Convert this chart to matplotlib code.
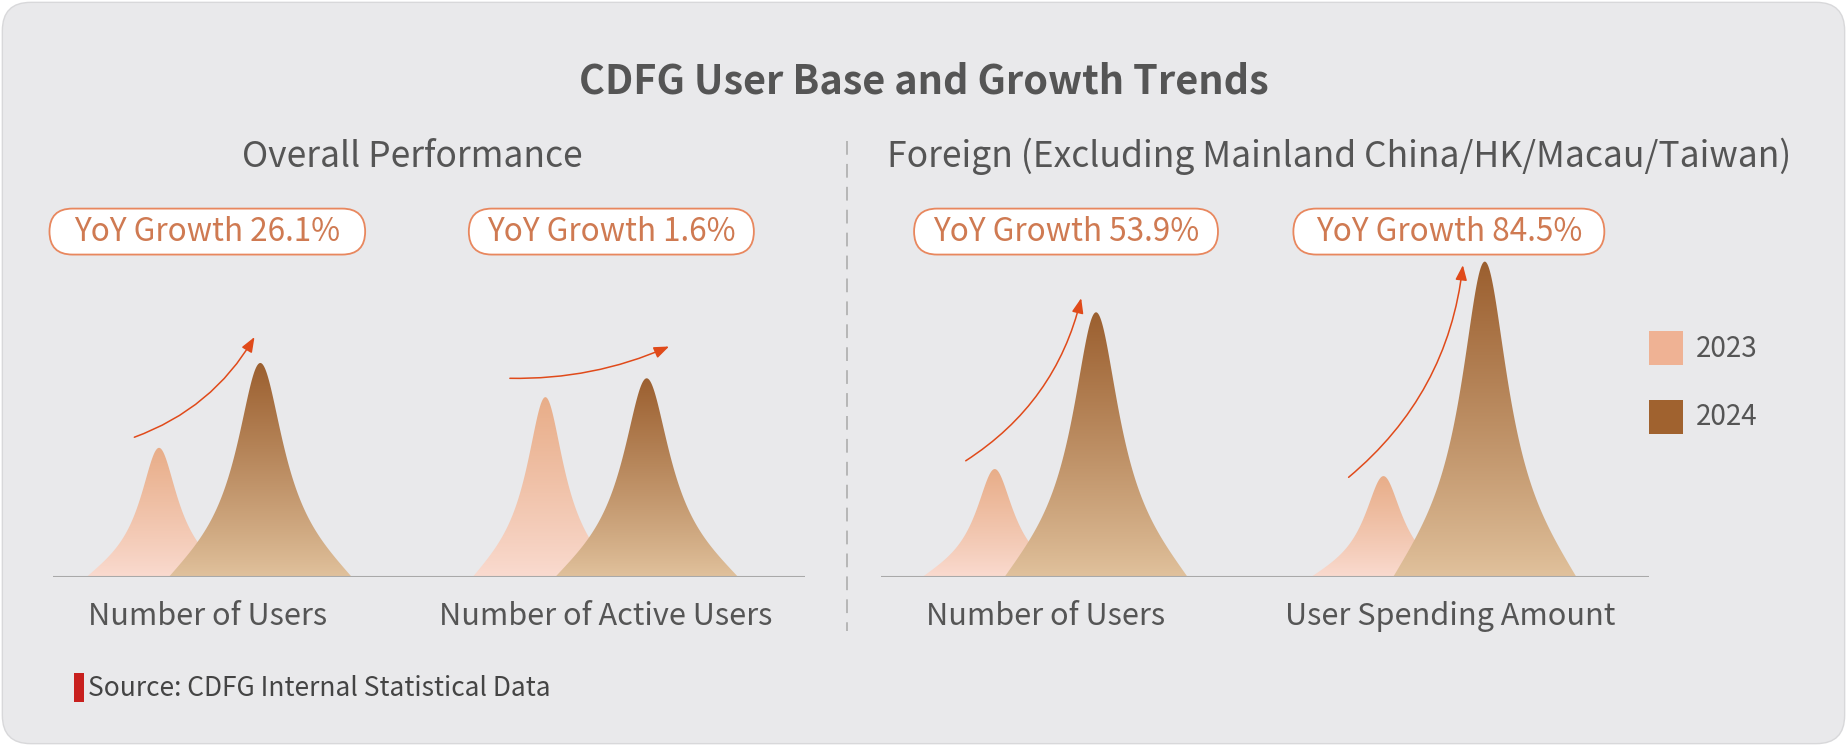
import numpy as np
import matplotlib
matplotlib.use("Agg")
import matplotlib.pyplot as plt
from matplotlib.patches import FancyBboxPatch, Rectangle, FancyArrowPatch, Polygon
from matplotlib.colors import to_rgb

plt.rcParams['font.family'] = ['Noto Sans CJK SC', 'DejaVu Sans']

# ---------------- data ----------------
title = "CDFG User Base and Growth Trends"
panel_titles = ["Overall Performance", "Foreign (Excluding Mainland China/HK/Macau/Taiwan)"]
categories_left = ["Number of Users", "Number of Active Users"]
categories_right = ["Number of Users", "User Spending Amount"]
years = ["2023", "2024"]
# relative peak heights (visual index)
left_2023 = [110, 153]
left_2024 = [182, 169]
right_2023 = [92, 86]
right_2024 = [225, 268]
growth_left = [26.1, 1.6]
growth_right = [53.9, 84.5]
source_text = "Source: CDFG Internal Statistical Data"

# ---------------- style / layout ----------------
W_REF, H_REF = 1568, 633
BG = '#e9e9eb'
TXT = '#555555'
C23_TOP, C23_BOT = '#e8ad88', '#fadbd0'
C24_TOP, C24_BOT = '#9b5f2f', '#e1c29d'
LEG23, LEG24 = '#efb294', '#a0622f'
ARROW = '#e04a1a'
PILL_EC = '#e8875e'
PILL_TXT = '#cf7a52'

fig = plt.figure(figsize=(18.47, 7.46), dpi=100)
fig.patch.set_facecolor('white')

bg = fig.add_axes([0, 0, 1, 1])
bg.set_xlim(0, W_REF)
bg.set_ylim(H_REF, 0)
bg.axis('off')
bg.add_patch(FancyBboxPatch((2, 2), W_REF - 4, H_REF - 4,
                            boxstyle="round,pad=0,rounding_size=24",
                            fc=BG, ec='#d8d8da', lw=1))

bg.text(W_REF / 2, 70, title, ha='center', va='center', fontsize=28.5,
        fontweight='bold', color=TXT)
bg.text(350, 133, panel_titles[0], ha='center', va='center', fontsize=25.5, color=TXT)
bg.text(1137, 133, panel_titles[1], ha='center', va='center', fontsize=25.5, color=TXT)

bg.plot([719, 719], [120, 535], color='#a8a8a8', lw=1.1, dashes=(9, 6))

# source
bg.add_patch(Rectangle((62.5, 571), 9, 25, fc='#c8201e', ec='none'))
bg.text(75, 584, source_text, ha='left', va='center', fontsize=19, color='#444444')

# legend
for yy, col, lab in [(281, LEG23, years[0]), (339, LEG24, years[1])]:
    bg.add_patch(Rectangle((1400, yy), 29, 29, fc=col, ec='none'))
    bg.text(1440, yy + 15, lab, ha='left', va='center', fontsize=20, color=TXT)

# pills
pill_cx = [176, 519, 905, 1230]
pill_w = [268, 242, 258, 264]
pill_y0, pill_h = 177, 39
growth_all = growth_left + growth_right
for cx, w, g in zip(pill_cx, pill_w, growth_all):
    bg.add_patch(FancyBboxPatch((cx - w / 2, pill_y0), w, pill_h,
                                boxstyle="round,pad=0,rounding_size=19.5",
                                fc='white', ec=PILL_EC, lw=1.3))
    bg.text(cx, pill_y0 + pill_h / 2, f"YoY Growth {g}%", ha='center', va='center',
            fontsize=22.7, color=PILL_TXT)


def profile(t, a=0.28, m=0.8):
    at = np.abs(t)
    return (1 + (at / a) ** 2) ** (-m) * np.clip(1 - at ** 4, 0, 1)


def draw_peak(ax, xc, h, hw, c_top, c_bot, z):
    t = np.linspace(-1, 1, 1201)
    x = xc + hw * t
    y = h * profile(t)
    poly = Polygon(np.column_stack([x, y]), closed=True, fc='none', ec='none')
    ax.add_patch(poly)
    v = np.linspace(0, 1, 300)[:, None, None] ** 0.9
    ct, cb = np.array(to_rgb(c_top)), np.array(to_rgb(c_bot))
    img = cb + (ct - cb) * v
    im = ax.imshow(img, extent=[xc - hw, xc + hw, 0, h], origin='lower',
                   aspect='auto', zorder=z, interpolation='bilinear')
    im.set_clip_path(poly)


def make_panel(x0, x1, c0, unit, cats, v23, v24, arrows, label_x):
    ybase, ytop = 490, 190
    ax = fig.add_axes([x0 / W_REF, 1 - ybase / H_REF, (x1 - x0) / W_REF,
                       (ybase - ytop) / H_REF])
    ax.patch.set_alpha(0)
    ax.axis('off')
    pos = np.arange(len(cats))
    off = 43 / unit
    for i in pos:
        draw_peak(ax, i - off, v23[i], 62 / unit, C23_TOP, C23_BOT, 2)
        draw_peak(ax, i + off, v24[i], 78 / unit, C24_TOP, C24_BOT, 3)
        (sx, sdy), (ex, edy), rad = arrows[i]
        arr = FancyArrowPatch((i + sx, v23[i] + sdy), (i + ex, v24[i] + edy),
                              connectionstyle=f"arc3,rad={rad}",
                              arrowstyle="-|>,head_length=0.9,head_width=0.35",
                              mutation_scale=10, color=ARROW, lw=1.1,
                              shrinkA=0, shrinkB=0, zorder=5)
        ax.add_patch(arr)
        bg.text(label_x[i], 523, cats[i], ha='center', va='center',
                fontsize=22.1, color=TXT)
    ax.axhline(0, color='#a9a9a9', lw=1.5, zorder=4)
    ax.set_xlim((x0 - c0) / unit, (x1 - c0) / unit)
    ax.set_ylim(0, ybase - ytop)
    return ax


arrows_left = [((-0.195, 9), (0.116, 22), 0.18), ((-0.223, 16), (0.189, 27), 0.11)]
arrows_right = [((-0.205, 7), (0.092, 12), 0.2), ((-0.22, -1), (0.074, -3), 0.2)]

make_panel(45, 683, 178, 328, categories_left, left_2023, left_2024, arrows_left, [176, 514])
make_panel(748, 1400, 887.5, 330, categories_right, right_2023, right_2024, arrows_right, [888, 1231])

fig.savefig("out.png", dpi=100, facecolor='white')
